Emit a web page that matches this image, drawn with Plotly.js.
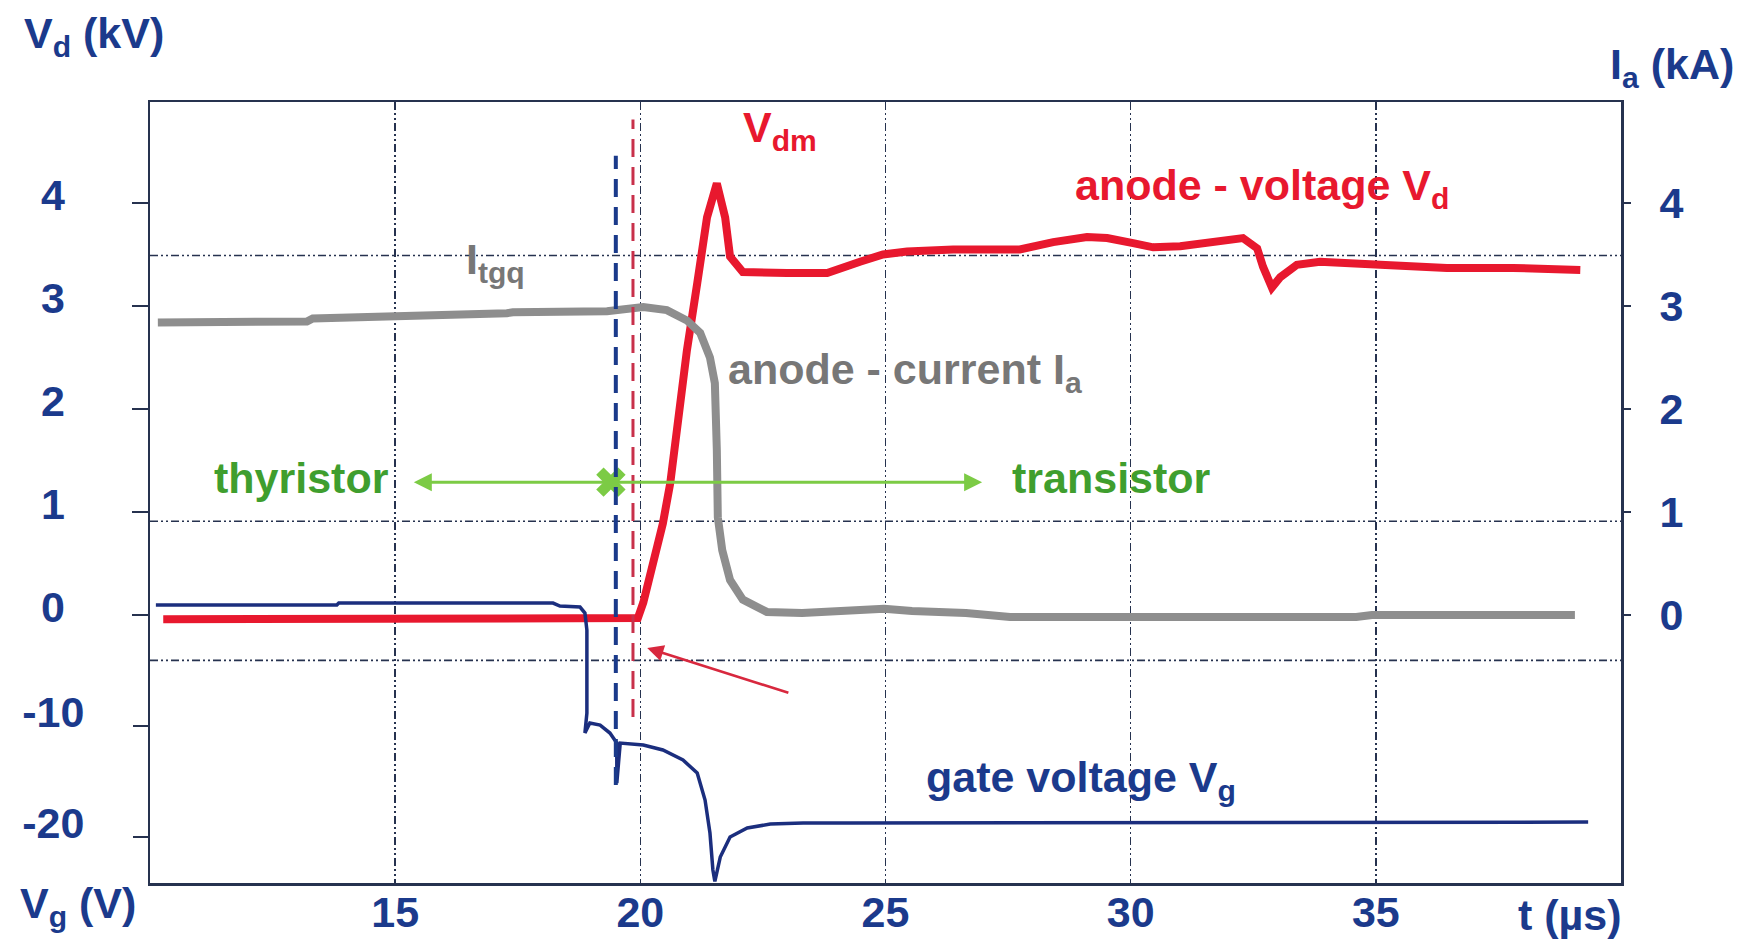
<!DOCTYPE html>
<html>
<head>
<meta charset="utf-8">
<script src="https://cdn.plot.ly/plotly-3.0.1.min.js"></script>
<style>html,body{margin:0;padding:0;background:#fff;}#chart{width:1747px;height:942px;}</style>
</head>
<body>
<div id="chart"></div>
<script>
// ---- data ----
// anode voltage Vd (kV) vs time t (µs)
const tVd = [10.27, 19.95, 20.06, 20.26, 20.46, 20.61, 20.77, 20.95, 21.16, 21.36, 21.56, 21.73, 21.83, 22.09, 22.99, 23.81, 24.48, 24.95, 25.44, 26.38, 27.74, 28.42, 29.11, 29.52, 30.05, 30.46, 31.01, 31.68, 32.29, 32.58, 32.70, 32.88, 33.05, 33.39, 33.86, 35.09, 36.45, 37.80, 39.17];
const vd  = [-0.04, -0.03, 0.12, 0.47, 0.89, 1.28, 1.92, 2.57, 3.22, 3.86, 4.19, 3.86, 3.48, 3.33, 3.32, 3.32, 3.43, 3.50, 3.53, 3.55, 3.55, 3.62, 3.67, 3.66, 3.61, 3.57, 3.58, 3.62, 3.66, 3.56, 3.38, 3.18, 3.28, 3.40, 3.43, 3.40, 3.37, 3.37, 3.35];

// anode current Ia (kA)
const tIa = [10.16, 13.20, 13.32, 14.43, 14.55, 15.71, 17.28, 17.40, 19.32, 20.06, 20.54, 20.95, 21.22, 21.42, 21.52, 21.56, 21.58, 21.67, 21.83, 22.09, 22.58, 23.30, 24.68, 24.97, 25.54, 26.64, 27.54, 30.13, 34.60, 34.92, 39.06];
const ia  = [2.84, 2.85, 2.88, 2.89, 2.91, 2.92, 2.93, 2.94, 2.95, 2.99, 2.96, 2.86, 2.74, 2.50, 2.25, 1.60, 0.95, 0.63, 0.34, 0.15, 0.03, 0.02, 0.04, 0.06, 0.04, 0.02, -0.02, -0.02, -0.02, 0.00, 0.00];

// gate voltage Vg (V)
const tVg = [10.12, 13.81, 13.85, 15.55, 18.22, 18.36, 18.77, 18.87, 18.91, 18.91, 18.87, 18.97, 19.18, 19.38, 19.52, 19.52, 19.59, 20.06, 20.46, 20.87, 21.16, 21.32, 21.42, 21.48, 21.52, 21.63, 21.83, 22.18, 22.65, 23.32, 24.28, 39.33];
const vg  = [0.90, 0.90, 1.08, 1.08, 1.08, 0.81, 0.72, 0.18, -1.35, -8.83, -10.63, -9.73, -9.91, -10.63, -11.53, -15.14, -11.53, -11.71, -12.16, -13.06, -14.23, -16.67, -19.64, -22.97, -24.0, -21.80, -20.00, -19.19, -18.83, -18.74, -18.74, -18.65];

// tick values / labels
const tTicks  = [15, 20, 25, 30, 35];
const vdTicks = [0, 1, 2, 3, 4];
const vgTicks = [-10, -20];
const iaTicks = [0, 1, 2, 3, 4];

// reference levels (kV on the Vd scale) drawn as dash-dot lines
const refLevelsVd = [3.49, 0.91, -0.44];
// event times (µs): gate turn-off marker (blue) and Vd rise marker (red)
const eventTimes = [19.50, 19.85];
const eventTops = [4.46, 4.81];
const eventBottoms = [-1.65, -0.99];
// thyristor / transistor transition point
const transitionT = [19.40];
const transitionV = [1.29];
const arrowEnds = [15.38, 26.97];

// ---- styles ----
const NAVY = '#1b3a8c';
const FRAME = '#26324f';
const RED = '#e8182e';
const GRAY = '#8e8e8e';
const GREEN_TXT = '#3f9e2e';
const GREEN_LINE = '#7ccb45';
const BLUE = '#1b2e7e';
const FONT = 'Liberation Sans, Arial, sans-serif';
const FS = 43;
const GRIDDASH = '8px,3px,2px,3px,2px,3px';

const traces = [
  {x: tIa, y: ia, yaxis: 'y3', mode: 'lines', line: {color: GRAY, width: 8}, hoverinfo: 'skip'},
  {x: tVg, y: vg, yaxis: 'y2', mode: 'lines', line: {color: BLUE, width: 3.5}, hoverinfo: 'skip'},
  {x: tVd, y: vd, yaxis: 'y', mode: 'lines', line: {color: RED, width: 8}, hoverinfo: 'skip'},
  {x: transitionT, y: transitionV, yaxis: 'y', mode: 'markers',
   marker: {symbol: 'x', size: 26, color: GREEN_LINE, line: {width: 0}}, hoverinfo: 'skip'}
];

const shapes = [];
refLevelsVd.forEach(v => shapes.push({type: 'line', xref: 'paper', yref: 'y', x0: 0, x1: 1, y0: v, y1: v,
  layer: 'below', line: {color: FRAME, width: 1.6, dash: GRIDDASH}}));
shapes.push({type: 'line', xref: 'x', yref: 'y', x0: eventTimes[0], x1: eventTimes[0], y0: eventBottoms[0], y1: eventTops[0],
  line: {color: '#1a3a8a', width: 4, dash: '18px,10px'}});
shapes.push({type: 'line', xref: 'x', yref: 'y', x0: eventTimes[1], x1: eventTimes[1], y0: eventBottoms[1], y1: eventTops[1],
  line: {color: '#c8304a', width: 3, dash: '18px,10px'}});

function txt(text, x, y, color, extra) {
  return Object.assign({text: text, x: x, y: y, xref: 'x', yref: 'y', showarrow: false,
    font: {family: FONT, size: FS, color: color, weight: 'bold'}, xanchor: 'center', yanchor: 'middle'}, extra || {});
}

const annotations = [
  // axis titles
  {text: 'V<sub>d</sub> (kV)', xref: 'paper', yref: 'paper', x: -0.087, y: 1.084, xanchor: 'left', yanchor: 'middle', showarrow: false,
   font: {family: FONT, size: FS, color: NAVY, weight: 'bold'}},
  {text: 'I<sub>a</sub> (kA)', xref: 'paper', yref: 'paper', x: 0.991, y: 1.045, xanchor: 'left', yanchor: 'middle', showarrow: false,
   font: {family: FONT, size: FS, color: NAVY, weight: 'bold'}},
  {text: 'V<sub>g</sub> (V)', xref: 'paper', yref: 'paper', x: -0.09, y: -0.03, xanchor: 'left', yanchor: 'middle', showarrow: false,
   font: {family: FONT, size: FS, color: NAVY, weight: 'bold'}},
  {text: 't (µs)', xref: 'paper', yref: 'paper', x: 1.002, y: -0.041, xanchor: 'right', yanchor: 'middle', showarrow: false,
   font: {family: FONT, size: FS, color: NAVY, weight: 'bold'}},
  // curve labels
  txt('V<sub>dm</sub>', 22.85, 4.71, RED),
  txt('anode - voltage V<sub>d</sub>', 32.68, 4.15, RED),
  txt('anode - current I<sub>a</sub>', 25.40, 2.36, '#777777'),
  txt('I<sub>tgq</sub>', 17.04, 3.43, '#777777'),
  txt('gate voltage V<sub>g</sub>', 28.99, -1.60, NAVY),
  txt('thyristor', 13.08, 1.33, GREEN_TXT),
  txt('transistor', 29.60, 1.33, GREEN_TXT),
  // green double arrow from the transition point
  {x: arrowEnds[0], y: transitionV[0], ax: transitionT[0], ay: transitionV[0], xref: 'x', yref: 'y', axref: 'x', ayref: 'y',
   text: '', showarrow: true, arrowhead: 2, arrowsize: 1.2, arrowwidth: 3, arrowcolor: GREEN_LINE},
  {x: arrowEnds[1], y: transitionV[0], ax: transitionT[0], ay: transitionV[0], xref: 'x', yref: 'y', axref: 'x', ayref: 'y',
   text: '', showarrow: true, arrowhead: 2, arrowsize: 1.2, arrowwidth: 3, arrowcolor: GREEN_LINE},
  // red pointer arrow
  {x: 20.14, y: -0.32, ax: 23.05, ay: -0.76, xref: 'x', yref: 'y', axref: 'x', ayref: 'y',
   text: '', showarrow: true, arrowhead: 2, arrowsize: 1.3, arrowwidth: 2.5, arrowcolor: '#d8283e'}
];

const layout = {
  width: 1747, height: 942,
  margin: {l: 150, r: 126, t: 102, b: 59},
  paper_bgcolor: '#ffffff', plot_bgcolor: '#ffffff',
  showlegend: false,
  font: {family: FONT},
  xaxis: {
    range: [10, 40], tickvals: tTicks, ticktext: tTicks.map(String),
    showgrid: true, gridcolor: FRAME, gridwidth: 1.6, griddash: GRIDDASH,
    zeroline: false, showline: true, mirror: true, linecolor: FRAME, linewidth: 2.5,
    ticks: '', ticklabelstandoff: -10,
    tickfont: {family: FONT, size: FS, color: NAVY, weight: 'bold'}
  },
  yaxis: {
    range: [-2.602, 4.981], tickvals: vdTicks, ticktext: vdTicks.map(String),
    showgrid: false, zeroline: false, showline: true, mirror: true, linecolor: FRAME, linewidth: 2.5,
    ticks: 'outside', ticklen: 16, tickwidth: 2, tickcolor: FRAME,
    ticklabelstandoff: 58, ticklabelshift: -8,
    tickfont: {family: FONT, size: FS, color: NAVY, weight: 'bold'}
  },
  yaxis2: {
    overlaying: 'y', side: 'left', range: [-24.14, 46.22], tickvals: vgTicks, ticktext: vgTicks.map(String),
    showgrid: false, zeroline: false, showline: false,
    ticks: 'outside', ticklen: 16, tickwidth: 2, tickcolor: FRAME,
    ticklabelstandoff: 40, ticklabelshift: -14,
    tickfont: {family: FONT, size: FS, color: NAVY, weight: 'bold'}
  },
  yaxis3: {
    overlaying: 'y', side: 'right', range: [-2.602, 4.981], tickvals: iaTicks, ticktext: iaTicks.map(String),
    showgrid: false, zeroline: false, showline: false,
    ticks: 'outside', ticklen: 9, tickwidth: 2, tickcolor: FRAME,
    ticklabelstandoff: 20,
    tickfont: {family: FONT, size: FS, color: NAVY, weight: 'bold'}
  },
  shapes: shapes,
  annotations: annotations
};

Plotly.newPlot('chart', traces, layout, {displayModeBar: false, staticPlot: true});
</script>
</body>
</html>
